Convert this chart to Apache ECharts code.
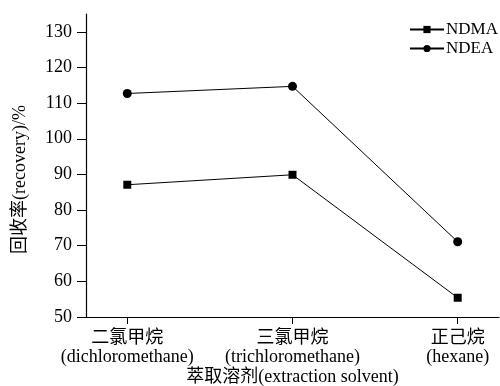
<!DOCTYPE html>
<html>
<head>
<meta charset="utf-8">
<script src="https://cdn.jsdelivr.net/npm/echarts@6/dist/echarts.min.js"></script>
<style>
  html, body { margin: 0; padding: 0; background: #fff; }
  #chart { width: 500px; height: 386px; }
</style>
</head>
<body>
<div id="chart"></div>
<script>
// 溶剂类别
var categories = ['二氯甲烷\n(dichloromethane)', '三氯甲烷\n(trichloromethane)', '正己烷\n(hexane)'];
var xPositions = [1, 2, 3];
// 回收率数据
var ndma = [87.1, 89.9, 55.4];
var ndea = [112.7, 114.7, 71.1];
var yTicks = [50, 60, 70, 80, 90, 100, 110, 120, 130];

var serif = '"Liberation Serif", "Noto Sans CJK SC", serif';

function pairs(vals) {
    return vals.map(function (v, i) { return [xPositions[i], v]; });
}

var myChart = echarts.init(document.getElementById('chart'));
var option = {
    animation: false,
    textStyle: { fontFamily: serif, color: '#000' },
    grid: { left: 86, right: 1, top: 14, bottom: 69, outerBoundsMode: 'none', containLabel: false },
    legend: {
        orient: 'vertical',
        left: 404,
        top: 16,
        itemWidth: 34,
        itemHeight: 9,
        itemGap: 2,
        textStyle: { fontFamily: serif, fontSize: 17, color: '#000', padding: [0, 0, 0, -3] },
        data: ['NDMA', 'NDEA']
    },
    xAxis: {
        type: 'value',
        min: 0.75,
        max: 3.25,
        name: '萃取溶剂(extraction solvent)',
        nameLocation: 'middle',
        nameGap: 51,
        nameMoveOverlap: false,
        nameTextStyle: { fontFamily: serif, fontSize: 18, color: '#000' },
        splitLine: { show: false },
        axisLine: { lineStyle: { color: '#000', width: 1.2 } },
        axisTick: { customValues: xPositions, length: 7, lineStyle: { color: '#000' } },
        axisLabel: {
            customValues: xPositions,
            fontFamily: serif,
            fontSize: 18,
            color: '#000',
            lineHeight: 19,
            margin: 12,
            formatter: function (v) { return categories[Math.round(v) - 1]; }
        }
    },
    yAxis: {
        type: 'value',
        min: 50,
        max: 135,
        name: '回收率(recovery)/%',
        nameLocation: 'middle',
        nameGap: 57,
        nameTextStyle: { fontFamily: serif, fontSize: 18, color: '#000', padding: [0, 0, 0, -28] },
        splitLine: { show: false },
        axisLine: { show: true, lineStyle: { color: '#000', width: 1.2 } },
        axisTick: { customValues: yTicks, length: 9, lineStyle: { color: '#000' } },
        axisLabel: { customValues: yTicks, fontFamily: serif, fontSize: 18, color: '#000', margin: 14 }
    },
    series: [
        {
            name: 'NDMA',
            type: 'line',
            data: pairs(ndma),
            symbol: 'rect',
            symbolSize: 8,
            lineStyle: { color: '#000', width: 1 },
            itemStyle: { color: '#000' }
        },
        {
            name: 'NDEA',
            type: 'line',
            data: pairs(ndea),
            symbol: 'circle',
            symbolSize: 9,
            lineStyle: { color: '#000', width: 1 },
            itemStyle: { color: '#000' }
        }
    ]
};
myChart.setOption(option);
</script>
</body>
</html>
